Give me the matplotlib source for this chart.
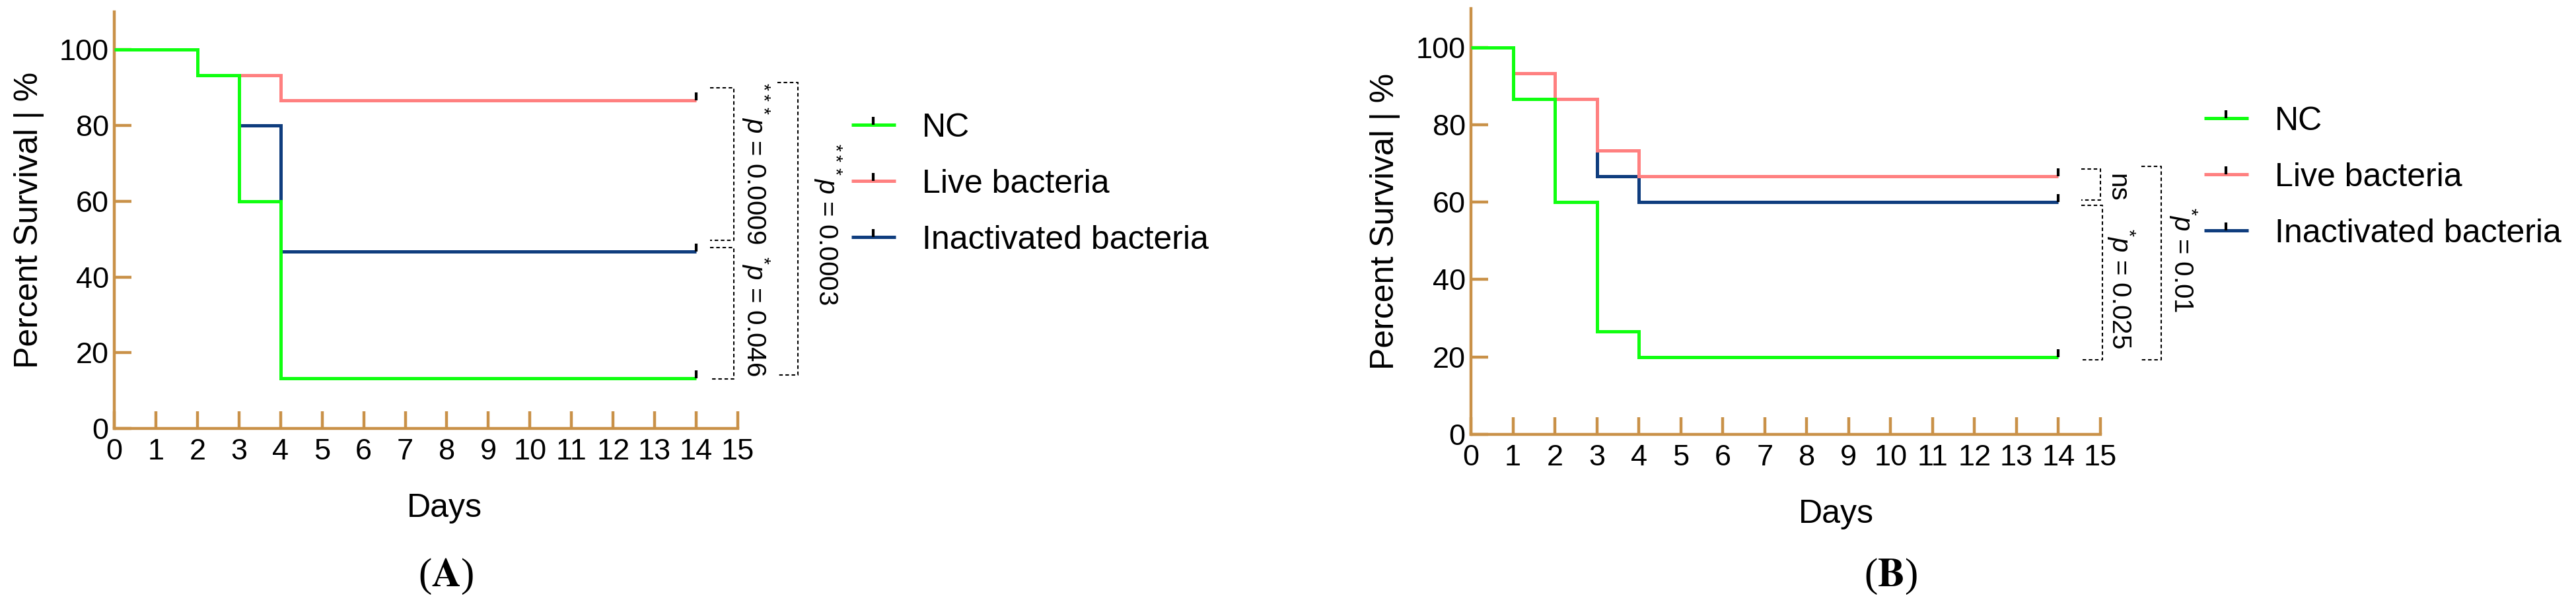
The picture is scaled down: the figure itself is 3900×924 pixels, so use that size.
import matplotlib
matplotlib.use('Agg')
import matplotlib.pyplot as plt
from matplotlib.lines import Line2D
from matplotlib.path import Path

plt.rcParams['font.family'] = ['Liberation Sans', 'DejaVu Sans']
plt.rcParams['mathtext.fontset'] = 'custom'
plt.rcParams['mathtext.rm'] = 'Liberation Sans'
plt.rcParams['mathtext.it'] = 'Liberation Sans:italic'
plt.rcParams['mathtext.bf'] = 'Liberation Sans:bold'

groups = ['NC', 'Live bacteria', 'Inactivated bacteria']
colors = ['#10FF10', '#FF8080', '#0F3D7E']
axis_color = '#C99148'

# panel A: days where survival changes, survival in %
nc_days_a = [0, 2, 3, 4, 14]
nc_surv_a = [100, 93.33, 60, 13.33, 13.33]
live_days_a = [0, 2, 4, 14]
live_surv_a = [100, 93.33, 86.67, 86.67]
inact_days_a = [0, 2, 3, 4, 14]
inact_surv_a = [100, 93.33, 80, 46.67, 46.67]

# panel B
nc_days_b = [0, 1, 2, 3, 4, 14]
nc_surv_b = [100, 86.67, 60, 26.67, 20, 20]
live_days_b = [0, 1, 2, 3, 4, 14]
live_surv_b = [100, 93.33, 86.67, 73.33, 66.67, 66.67]
inact_days_b = [0, 1, 2, 3, 4, 14]
inact_surv_b = [100, 93.33, 86.67, 66.67, 60, 60]

x_ticks = list(range(0, 16))
y_ticks = [0, 20, 40, 60, 80, 100]

pvals_a = [r'$^{***}p$ = 0.0009', r'$^{*}p$ = 0.046', r'$^{***}p$ = 0.0003']
pvals_b = ['ns', r'$^{*}p$ = 0.025', r'$^{*}p$ = 0.01']

# censoring tick: short stroke pointing up from the point
censor = Path([(0, 0), (0, 1)], [Path.MOVETO, Path.LINETO])

fig = plt.figure(figsize=(39, 9.24), dpi=100)


def make_axes(rect, curves, days_x):
    ax = fig.add_axes(rect)
    # draw blue first, then pink, green on top
    for i in [2, 1, 0]:
        d, s = curves[i]
        ax.step(d, s, where='post', color=colors[i], lw=3.6,
                solid_joinstyle='miter', solid_capstyle='butt', zorder=3 + (2 - i))
        ax.plot(d[-1], s[-1], marker=censor, ms=17, mew=3, color='black',
                ls='none', zorder=6, clip_on=False)
    ax.set_xlim(0, 15)
    ax.set_ylim(0, 110)
    ax.set_xticks(x_ticks)
    ax.set_yticks(y_ticks)
    for side in ['top', 'right']:
        ax.spines[side].set_visible(False)
    for side in ['left', 'bottom']:
        ax.spines[side].set_color(axis_color)
        ax.spines[side].set_linewidth(3.2)
    ax.tick_params(axis='both', direction='in', length=19, width=3.2,
                   color=axis_color, labelsize=32.5)
    ax.tick_params(axis='x', pad=11)
    ax.tick_params(axis='y', pad=6)
    ax.set_ylabel('Percent Survival | %', fontsize=36)
    ax.yaxis.set_label_coords(-0.112, 0.5)
    ax.set_xlabel('Days', fontsize=36)
    ax.xaxis.set_label_coords(days_x, -0.155)
    return ax


def bracket(ax, x0, x1, y0, y1):
    ax.plot([x0, x1, x1, x0], [y0, y0, y1, y1], color='black', lw=1.5,
            ls=(0, (2.6, 1.9)), clip_on=False, zorder=2)


def pval(ax, x, y, s):
    ax.text(x, y, s, rotation=-90, rotation_mode='anchor', ha='center',
            va='baseline', fontsize=29)


def legend(ax, x, y):
    handles = [Line2D([0], [0], color=c, lw=3.6, marker=censor, ms=17, mew=3,
                      mec='black', solid_capstyle='butt') for c in colors]
    ax.legend(handles, groups, loc='upper left', bbox_to_anchor=(x, y),
              bbox_transform=fig.transFigure, frameon=False, fontsize=36,
              handlelength=1.34, handletextpad=0.8, labelspacing=0.78,
              borderpad=0, borderaxespad=0, numpoints=1)


# ---- panel A
ax_a = make_axes([0.04436, 0.29762, 0.24205, 0.6829],
                 [(nc_days_a, nc_surv_a), (live_days_a, live_surv_a),
                  (inact_days_a, inact_surv_a)], 0.53)
bracket(ax_a, 14.33, 14.91, 90.0, 49.7)
bracket(ax_a, 14.33, 14.91, 47.8, 13.1)
bracket(ax_a, 15.95, 16.45, 91.4, 14.1)
pval(ax_a, 15.22, 70.0, pvals_a[0])
pval(ax_a, 15.22, 29.6, pvals_a[1])
pval(ax_a, 16.96, 53.9, pvals_a[2])
legend(ax_a, 0.3305, 0.815)

# ---- panel B
ax_b = make_axes([0.57103, 0.28788, 0.24436, 0.69805],
                 [(nc_days_b, nc_surv_b), (live_days_b, live_surv_b),
                  (inact_days_b, inact_surv_b)], 0.58)
ax_b.xaxis.set_label_coords(0.58, -0.152)
bracket(ax_b, 14.55, 15.0, 68.5, 60.6)
bracket(ax_b, 14.55, 15.04, 59.1, 19.3)
bracket(ax_b, 15.98, 16.44, 69.2, 19.2)
pval(ax_b, 15.22, 63.8, pvals_b[0])
pval(ax_b, 15.28, 37.7, pvals_b[1])
pval(ax_b, 16.77, 45.1, pvals_b[2])
legend(ax_b, 0.8556, 0.826)

fig.text(675 / 3900, 1 - 873 / 924, r'($\mathbf{A}$)', family='Liberation Serif',
         math_fontfamily='stix', fontsize=44, ha='center', va='center')
fig.text(2862 / 3900, 1 - 873 / 924, r'($\mathbf{B}$)', family='Liberation Serif',
         math_fontfamily='stix', fontsize=44, ha='center', va='center')

fig.savefig('out.png', dpi=100)
